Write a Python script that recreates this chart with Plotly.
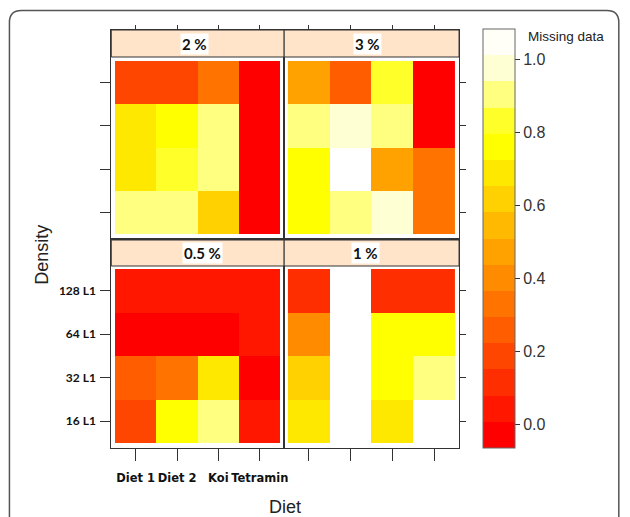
import plotly.graph_objects as go

# ---------------- data ----------------
diets = ["Diet 1", "Diet 2", "Koi", "Tetramin"]
densities = ["16 L1", "32 L1", "64 L1", "128 L1"]   # bottom -> top
panels = ["2 %", "3 %", "0.5 %", "1 %"]

# rows follow `densities` (16 L1 first), columns follow `diets`; None = missing data
z_2 = [
    [0.90, 0.90, 0.62, -0.02],
    [0.69, 0.83, 0.90, -0.02],
    [0.69, 0.76, 0.90, -0.02],
    [0.19, 0.19, 0.33, -0.02],
]
z_3 = [
    [0.76, 0.90, 0.98, 0.33],
    [0.76, None, 0.47, 0.33],
    [0.90, 0.98, 0.90, -0.02],
    [0.47, 0.26, 0.83, -0.02],
]
z_05 = [
    [0.19, 0.76, 0.90, 0.04],
    [0.26, 0.33, 0.69, -0.02],
    [-0.02, -0.02, -0.02, 0.04],
    [0.04, 0.04, 0.04, 0.04],
]
z_1 = [
    [0.69, None, 0.69, None],
    [0.62, None, 0.76, 0.90],
    [0.40, None, 0.76, 0.76],
    [0.12, None, 0.12, 0.12],
]
cbar_ticks = [0.0, 0.2, 0.4, 0.6, 0.8, 1.0]

# ---------------- style ----------------
W, H = 624, 517
band_colors = ["#FF0000", "#FF1700", "#FF2E00", "#FF4600", "#FF5D00", "#FF7400",
               "#FF8B00", "#FFA200", "#FFB900", "#FFD100", "#FFE800", "#FFFF00",
               "#FFFF2A", "#FFFF80", "#FFFFD4", "#FFFFF7"]
nb = len(band_colors)
zmin = -0.0638
band = 0.0718
zmax = zmin + nb * band
colorscale = []
for i, c in enumerate(band_colors):
    colorscale.append([i / nb, c])
    colorscale.append([(i + 1) / nb, c])

def px_x(p):
    return p / W

def px_y(p):
    return 1 - p / H

left_dom = [px_x(112), px_x(286)]
right_dom = [px_x(286), px_x(462)]
top_dom = [px_y(238), px_y(30)]
bot_dom = [px_y(448), px_y(240)]

xr = [-0.59, 3.59]
top_yr = [-0.5925, -0.5925 + 208 / 43.25]
bot_yr = [-0.615, -0.615 + 208 / 43.5]

line_col = "#333333"

fig = go.Figure()

specs = [
    (z_2, "x", "y", True),
    (z_3, "x2", "y2", False),
    (z_05, "x3", "y3", False),
    (z_1, "x4", "y4", False),
]
for z, xa, ya, show in specs:
    fig.add_trace(go.Heatmap(
        z=z, x=diets, y=densities, xaxis=xa, yaxis=ya,
        colorscale=colorscale, zmin=zmin, zmax=zmax,
        showscale=show, hoverongaps=False,
        colorbar=dict(
            x=px_x(486), xanchor="left", xpad=0, xref="paper",
            y=px_y((28.6 + 448) / 2), yanchor="middle", ypad=0,
            len=419.4, lenmode="pixels", thickness=32, thicknessmode="pixels",
            outlinecolor="#666", outlinewidth=1,
            tickmode="array", tickvals=cbar_ticks, tickformat=".1f",
            tickprefix="\u2002", showtickprefix="all",
            ticks="outside", ticklen=5, tickcolor="#333",
            tickfont=dict(family="Liberation Sans, Arial, sans-serif", size=16, color="#333"),
        ),
    ))

common_x = dict(range=xr, showline=True, mirror=True, linecolor=line_col, linewidth=1,
                showgrid=False, zeroline=False, tickcolor=line_col, fixedrange=True)
common_y = dict(showline=True, mirror=True, linecolor=line_col, linewidth=1,
                showgrid=False, zeroline=False, tickcolor=line_col, fixedrange=True)

fig.update_layout(
    width=W, height=H, autosize=False,
    margin=dict(l=0, r=0, t=0, b=0),
    paper_bgcolor="white", plot_bgcolor="white",
    showlegend=False,
    xaxis=dict(domain=left_dom, anchor="y", side="top", ticks="outside", ticklen=4,
               showticklabels=False, **common_x),
    yaxis=dict(domain=top_dom, anchor="x", range=top_yr, ticks="outside", ticklen=10,
               showticklabels=False, **common_y),
    xaxis2=dict(domain=right_dom, anchor="y2", side="top", ticks="outside", ticklen=4,
                showticklabels=False, **common_x),
    yaxis2=dict(domain=top_dom, anchor="x2", range=top_yr, side="right", ticks="outside",
                ticklen=6, showticklabels=False, **common_y),
    xaxis3=dict(domain=left_dom, anchor="y3", side="bottom", ticks="outside", ticklen=12,
                showticklabels=True, tickangle=0,
                tickfont=dict(family="DejaVu Sans, sans-serif", size=11.5,
                              color="#111", weight="bold"),
                ticklabelstandoff=7, **common_x),
    yaxis3=dict(domain=bot_dom, anchor="x3", range=bot_yr, ticks="outside", ticklen=10,
                showticklabels=True, tickfont=dict(family="Lato, sans-serif", size=12,
                                                    color="#111", weight="bold"),
                ticklabelstandoff=2, **common_y),
    xaxis4=dict(domain=right_dom, anchor="y4", side="bottom", ticks="outside", ticklen=12,
                showticklabels=False, **common_x),
    yaxis4=dict(domain=bot_dom, anchor="x4", range=bot_yr, side="right", ticks="outside",
                ticklen=6, showticklabels=False, **common_y),
)

shapes = []
# strips
strip_rows = [(30, 57), (30, 57), (240, 266), (240, 266)]
strip_cols = [(112, 286), (286, 462), (112, 286), (286, 462)]
for (y0, y1), (x0, x1) in zip(strip_rows, strip_cols):
    shapes.append(dict(type="rect", xref="paper", yref="paper",
                       x0=px_x(x0), x1=px_x(x1), y0=px_y(y1), y1=px_y(y0),
                       fillcolor="#FFE4CA", line=dict(color=line_col, width=1), layer="above"))
# outer rounded frame (open at the bottom edge of the picture)
r = 12
L, T, R, B = 9.5, 10.5, W - 1.2, 517
path = (f"M {px_x(L)},{px_y(B)} L {px_x(L)},{px_y(T + r)} "
        f"Q {px_x(L)},{px_y(T)} {px_x(L + r)},{px_y(T)} "
        f"L {px_x(R - r)},{px_y(T)} Q {px_x(R)},{px_y(T)} {px_x(R)},{px_y(T + r)} "
        f"L {px_x(R)},{px_y(B)}")
shapes.append(dict(type="path", xref="paper", yref="paper", path=path,
                   line=dict(color="#555", width=1.5)))
fig.update_layout(shapes=shapes)

annotations = []
strip_centers = [(196, 43.5), (370, 43.5), (204, 253), (368, 253)]
for txt, (cx, cy) in zip(panels, strip_centers):
    annotations.append(dict(text=f"<b>{txt}</b>", x=px_x(cx), y=px_y(cy),
                            xref="paper", yref="paper", showarrow=False,
                            xanchor="center", yanchor="middle",
                            bgcolor="white", borderpad=1,
                            font=dict(family="Lato, sans-serif", size=15, color="#111")))
annotations.append(dict(text="Diet", x=px_x(287), y=px_y(507), xref="paper", yref="paper",
                        showarrow=False, xanchor="center", yanchor="middle",
                        font=dict(family="Liberation Sans, Arial, sans-serif", size=18, color="#222")))
annotations.append(dict(text="Density", x=px_x(42), y=px_y(255), xref="paper", yref="paper",
                        showarrow=False, xanchor="center", yanchor="middle", textangle=-90,
                        font=dict(family="Liberation Sans, Arial, sans-serif", size=18, color="#222")))
annotations.append(dict(text="Missing data", x=px_x(529), y=px_y(36), xref="paper", yref="paper",
                        showarrow=False, xanchor="left", yanchor="middle",
                        font=dict(family="Liberation Sans, Arial, sans-serif", size=13.5, color="#222")))
fig.update_layout(annotations=annotations)

fig.write_html(
    "out.html",
    config={"responsive": False, "displayModeBar": False},
    post_script=("document.documentElement.style.margin='0';"
                 "document.body.style.margin='0';"
                 "document.body.style.overflow='hidden';"
                 "document.documentElement.style.overflow='hidden';"),
)
